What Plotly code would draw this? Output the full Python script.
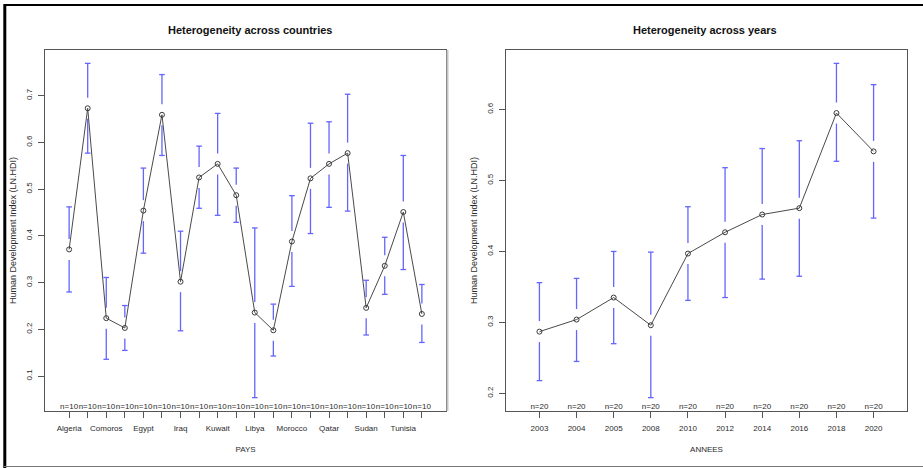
import plotly.graph_objects as go

# ---- data: mean HDI (log) with 95% confidence bounds ----
countries = ["Algeria", "Bahrain", "Comoros", "Djibouti", "Egypt", "Iran", "Iraq",
             "Jordan", "Kuwait", "Lebanon", "Libya", "Mauritania", "Morocco", "Oman",
             "Qatar", "Saudi Arabia", "Sudan", "Syria", "Tunisia", "Yemen"]
country_mean = [0.371, 0.673, 0.224, 0.203, 0.454, 0.659, 0.302, 0.525, 0.554, 0.487,
                0.236, 0.198, 0.388, 0.523, 0.554, 0.577, 0.246, 0.336, 0.451, 0.233]
country_lower = [0.280, 0.577, 0.136, 0.155, 0.363, 0.572, 0.197, 0.459, 0.444, 0.429,
                 0.054, 0.143, 0.292, 0.405, 0.461, 0.453, 0.188, 0.275, 0.328, 0.172]
country_upper = [0.462, 0.769, 0.311, 0.251, 0.545, 0.745, 0.410, 0.592, 0.662, 0.545,
                 0.417, 0.254, 0.486, 0.641, 0.644, 0.703, 0.305, 0.397, 0.572, 0.296]
country_n = [10, 10, 10, 10, 10, 10, 10, 10, 10, 10,
             10, 10, 10, 10, 10, 10, 10, 10, 10, 10]

years = ["2003", "2004", "2005", "2008", "2010", "2012", "2014", "2016", "2018", "2020"]
year_mean = [0.287, 0.304, 0.335, 0.296, 0.397, 0.427, 0.452, 0.461, 0.595, 0.541]
year_lower = [0.218, 0.245, 0.270, 0.194, 0.331, 0.335, 0.361, 0.365, 0.527, 0.447]
year_upper = [0.356, 0.362, 0.400, 0.399, 0.463, 0.518, 0.545, 0.556, 0.665, 0.635]
year_n = [20, 20, 20, 20, 20, 20, 20, 20, 20, 20]

Y_TITLE = "Human Development Index (LN.HDI)"

# ---- page geometry (pixels) ----
W, H = 923, 468
ML, MR, MT, MB = 45, 16, 50, 57
PW, PH = W - ML - MR, H - MT - MB
LEFT_PX = (45, 446)
RIGHT_PX = (506, 907)

FONT = "Liberation Sans, Arial, sans-serif"
TXT = "#2b2b2b"
AXC = "#555555"
BLUE = "#6464ff"
GAP_PX = 10.5


def px2x(px):
    return (px - ML) / PW


def px2y(py):
    return 1 - (py - MT) / PH


def extended(lo, hi, frac=0.04):
    span = hi - lo
    return [lo - frac * span, hi + frac * span]


fig = go.Figure()


def add_panel(suffix, labels, mean, lower, upper, counts, every, dom_px, xtitle):
    n = len(mean)
    pos = list(range(1, n + 1))
    yr = extended(min(lower), max(upper))
    xr = extended(0.5, n + 0.5)
    gap = GAP_PX * (yr[1] - yr[0]) / PH
    xa, ya = "x" + suffix, "y" + suffix

    # confidence bars, interrupted around each mean
    sx, sy = [], []
    for p, m, lo, hi in zip(pos, mean, lower, upper):
        sx += [p, p, None, p, p, None]
        sy += [hi, m + gap, None, m - gap, lo, None]
    fig.add_trace(go.Scatter(x=sx, y=sy, mode="lines", xaxis=xa, yaxis=ya,
                             line=dict(color=BLUE, width=1.3), hoverinfo="skip",
                             showlegend=False))
    fig.add_trace(go.Scatter(x=pos + pos, y=upper + lower, mode="markers",
                             xaxis=xa, yaxis=ya, hoverinfo="skip", showlegend=False,
                             marker=dict(symbol="line-ew", size=4,
                                         line=dict(color=BLUE, width=1.3))))
    # means connected
    fig.add_trace(go.Scatter(x=pos, y=mean, mode="lines+markers", xaxis=xa, yaxis=ya,
                             line=dict(color="#4a4a4a", width=1),
                             marker=dict(symbol="circle-open", size=5, color="#3a3a3a",
                                         line=dict(width=1)),
                             showlegend=False))
    # group sizes along the bottom
    fig.add_trace(go.Scatter(x=pos, y=[yr[0]] * n, mode="text", xaxis=xa, yaxis=ya,
                             text=[f"n={c}" for c in counts], textposition="top center",
                             textfont=dict(size=8, color=TXT, family=FONT),
                             hoverinfo="skip", showlegend=False))

    ticktext = [lab if i % every == 0 else "" for i, lab in enumerate(labels)]
    axis_common = dict(showline=True, mirror=True, linecolor=AXC, linewidth=1,
                       showgrid=False, zeroline=False, ticks="outside", ticklen=6,
                       tickcolor=AXC, tickwidth=1,
                       tickfont=dict(size=8, color=TXT, family=FONT))
    fig.layout["xaxis" + suffix] = dict(
        axis_common, domain=[px2x(dom_px[0]), px2x(dom_px[1])], range=xr,
        tickmode="array", tickvals=pos, ticktext=ticktext, ticklabelstandoff=3,
        anchor=ya,
        title=dict(text=xtitle, font=dict(size=8, color=TXT, family=FONT), standoff=14))
    fig.layout["yaxis" + suffix] = dict(
        axis_common, domain=[0, 1], range=yr, tick0=0, dtick=0.1, tickformat=".1f",
        tickangle=-90, ticklabelstandoff=3, anchor=xa)

    # vertical axis label, centred on the plotting region
    fig.add_annotation(text=Y_TITLE, xref="paper", yref="paper",
                       x=px2x(dom_px[0] - 32.5), y=px2y(230.5), textangle=-90,
                       xanchor="center", yanchor="middle", showarrow=False,
                       font=dict(size=9, color=TXT, family=FONT))


add_panel("", countries, country_mean, country_lower, country_upper, country_n, 2,
          LEFT_PX, "PAYS")
add_panel("2", years, year_mean, year_lower, year_upper, year_n, 1,
          RIGHT_PX, "ANNEES")

# panel titles
for text, cx in [("Heterogeneity across countries", 250),
                 ("Heterogeneity across years", 705)]:
    fig.add_annotation(text=f"<b>{text}</b>", xref="paper", yref="paper",
                       x=px2x(cx), y=px2y(30), xanchor="center", yanchor="middle",
                       showarrow=False,
                       font=dict(size=11, color="#111111", family=FONT))

# outer frame
shapes = [
    dict(type="line", xref="paper", yref="paper", x0=px2x(4), x1=px2x(923),
         y0=px2y(5), y1=px2y(5), line=dict(color="#000000", width=2)),
    dict(type="line", xref="paper", yref="paper", x0=px2x(4.8), x1=px2x(4.8),
         y0=px2y(4), y1=px2y(468), line=dict(color="#000000", width=3)),
    dict(type="line", xref="paper", yref="paper", x0=px2x(4), x1=px2x(923),
         y0=px2y(466.5), y1=px2y(466.5), line=dict(color="#777777", width=1)),
    dict(type="line", xref="paper", yref="paper", x0=px2x(447.5), x1=px2x(447.5),
         y0=px2y(50), y1=px2y(411), line=dict(color="#c4c4c4", width=2)),
]
fig.update_layout(shapes=shapes)

fig.update_layout(width=W, height=H, margin=dict(l=ML, r=MR, t=MT, b=MB),
                  paper_bgcolor="white", plot_bgcolor="white",
                  font=dict(family=FONT, color=TXT), showlegend=False)

fig.write_html("out.html")
